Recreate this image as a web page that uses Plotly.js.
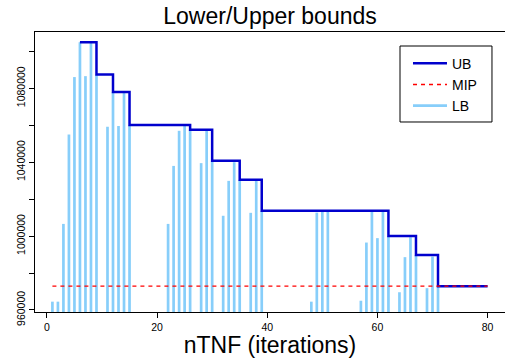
<!DOCTYPE html>
<html>
<head>
<meta charset="utf-8">
<script src="https://cdn.plot.ly/plotly-3.0.1.min.js"></script>
<style>
html, body { margin: 0; padding: 0; background: #ffffff; }
#chart { width: 505px; height: 358px; }
</style>
</head>
<body>
<div id="chart"></div>
<script>
// ---- Data ----
var lbIter = [1, 2, 3, 4, 5, 6, 7, 8, 9, 11, 12, 13, 14, 15,
              22, 23, 24, 25, 26, 28, 29, 30, 32, 33, 34, 35, 37, 38, 39,
              48, 49, 50, 51, 57, 58, 59, 60, 61, 62, 64, 65, 66, 67, 69, 70, 71];
var lbValue = [964500, 964500, 1006600, 1055000, 1086100, 1104900, 1086600, 1104900, 1087500,
               1059200, 1078000, 1059600, 1078000, 1060100,
               1006600, 1038000, 1057000, 1060100, 1057600, 1039500, 1057600, 1040800,
               1011000, 1029900, 1040000, 1030500, 1012600, 1030100, 1013700,
               964500, 1012700, 1013700, 1013700,
               965000, 996500, 1013300, 998900, 1013700, 1000100,
               969600, 988600, 999400, 989700, 971800, 988900, 972900];

var ubIter  = [6, 9, 12, 15, 26, 30, 35, 39, 62, 67, 71, 80];
var ubValue = [1104900, 1087500, 1078000, 1060100, 1057600, 1040800, 1030500,
               1013700, 1000100, 989700, 972900, 972900];

var mipIter  = [1, 80];
var mipValue = [972900, 972900];

var xTickVals  = [0, 20, 40, 60, 80];
var xTickText  = ["0", "20", "40", "60", "80"];
var yTickVals  = [960000, 980000, 1000000, 1020000, 1040000, 1060000, 1080000, 1100000];
var yTickText  = ["960000", "", "1000000", "", "1040000", "", "1080000", ""];

var chartTitle = "Lower/Upper bounds";
var xTitle = "nTNF (iterations)";

// ---- Layout / styling ----
var yRange = [958900, 1110500];
var xRange = [-2.16, 83.16];
var fontFam = "Liberation Sans, Arial, Helvetica, sans-serif";

// LB drawn as vertical sticks (R type = "h") from the bottom of the plot
var lbX = [], lbY = [];
for (var i = 0; i < lbIter.length; i++) {
  lbX.push(lbIter[i], lbIter[i], null);
  lbY.push(yRange[0], lbValue[i], null);
}

var traceLB = {
  x: lbX, y: lbY, type: "scatter", mode: "lines", name: "LB",
  line: { color: "#87CEFA", width: 2.7 }, legendrank: 3, hoverinfo: "skip"
};
var traceUB = {
  x: ubIter, y: ubValue, type: "scatter", mode: "lines", name: "UB",
  line: { color: "#0000CD", width: 2.5, shape: "hv" }, legendrank: 1
};
var traceMIP = {
  x: mipIter, y: mipValue, type: "scatter", mode: "lines", name: "MIP",
  line: { color: "#FF0000", width: 1.3, dash: "4px,4px" }, legendrank: 2
};

var layout = {
  width: 505, height: 358,
  margin: { l: 35, r: 0, t: 32, b: 46, pad: 0 },
  paper_bgcolor: "#ffffff", plot_bgcolor: "#ffffff",
  font: { family: fontFam, color: "#000000" },
  showlegend: true,
  title: {
    text: chartTitle,
    font: { family: fontFam, size: 23, color: "#000000" },
    xref: "paper", x: 0.5, xanchor: "center",
    yref: "container", y: 0.956, yanchor: "middle"
  },
  xaxis: {
    range: xRange, autorange: false,
    tickmode: "array", tickvals: xTickVals, ticktext: xTickText,
    ticks: "outside", ticklen: 5, tickwidth: 1, tickcolor: "#000000",
    tickfont: { family: fontFam, size: 10.5, color: "#000000" },
    showline: true, mirror: true, linecolor: "#000000", linewidth: 1,
    showgrid: false, zeroline: false,
    title: { text: xTitle, font: { family: fontFam, size: 23, color: "#000000" } },
    automargin: false
  },
  yaxis: {
    range: yRange, autorange: false,
    tickmode: "array", tickvals: yTickVals, ticktext: yTickText,
    ticks: "outside", ticklen: 5, tickwidth: 1, tickcolor: "#000000",
    tickangle: -90,
    tickfont: { family: fontFam, size: 10.5, color: "#000000" },
    showline: true, mirror: true, linecolor: "#000000", linewidth: 1,
    showgrid: false, zeroline: false,
    automargin: false
  },
  // legend frame (R-style box), legend itself is transparent on top of it
  shapes: [{
    type: "rect", xref: "paper", yref: "paper", layer: "above",
    x0: 0.7766, x1: 0.9723, y0: 0.6786, y1: 0.95,
    line: { color: "#000000", width: 1 }, fillcolor: "#ffffff"
  }],
  legend: {
    x: 0.7936, xanchor: "left", y: 0.944, yanchor: "top",
    bgcolor: "rgba(0,0,0,0)", borderwidth: 0,
    font: { family: fontFam, size: 14, color: "#000000" },
    itemwidth: 34, tracegroupgap: 0
  }
};

Plotly.newPlot("chart", [traceLB, traceUB, traceMIP], layout, { displayModeBar: false, staticPlot: true });
</script>
</body>
</html>
